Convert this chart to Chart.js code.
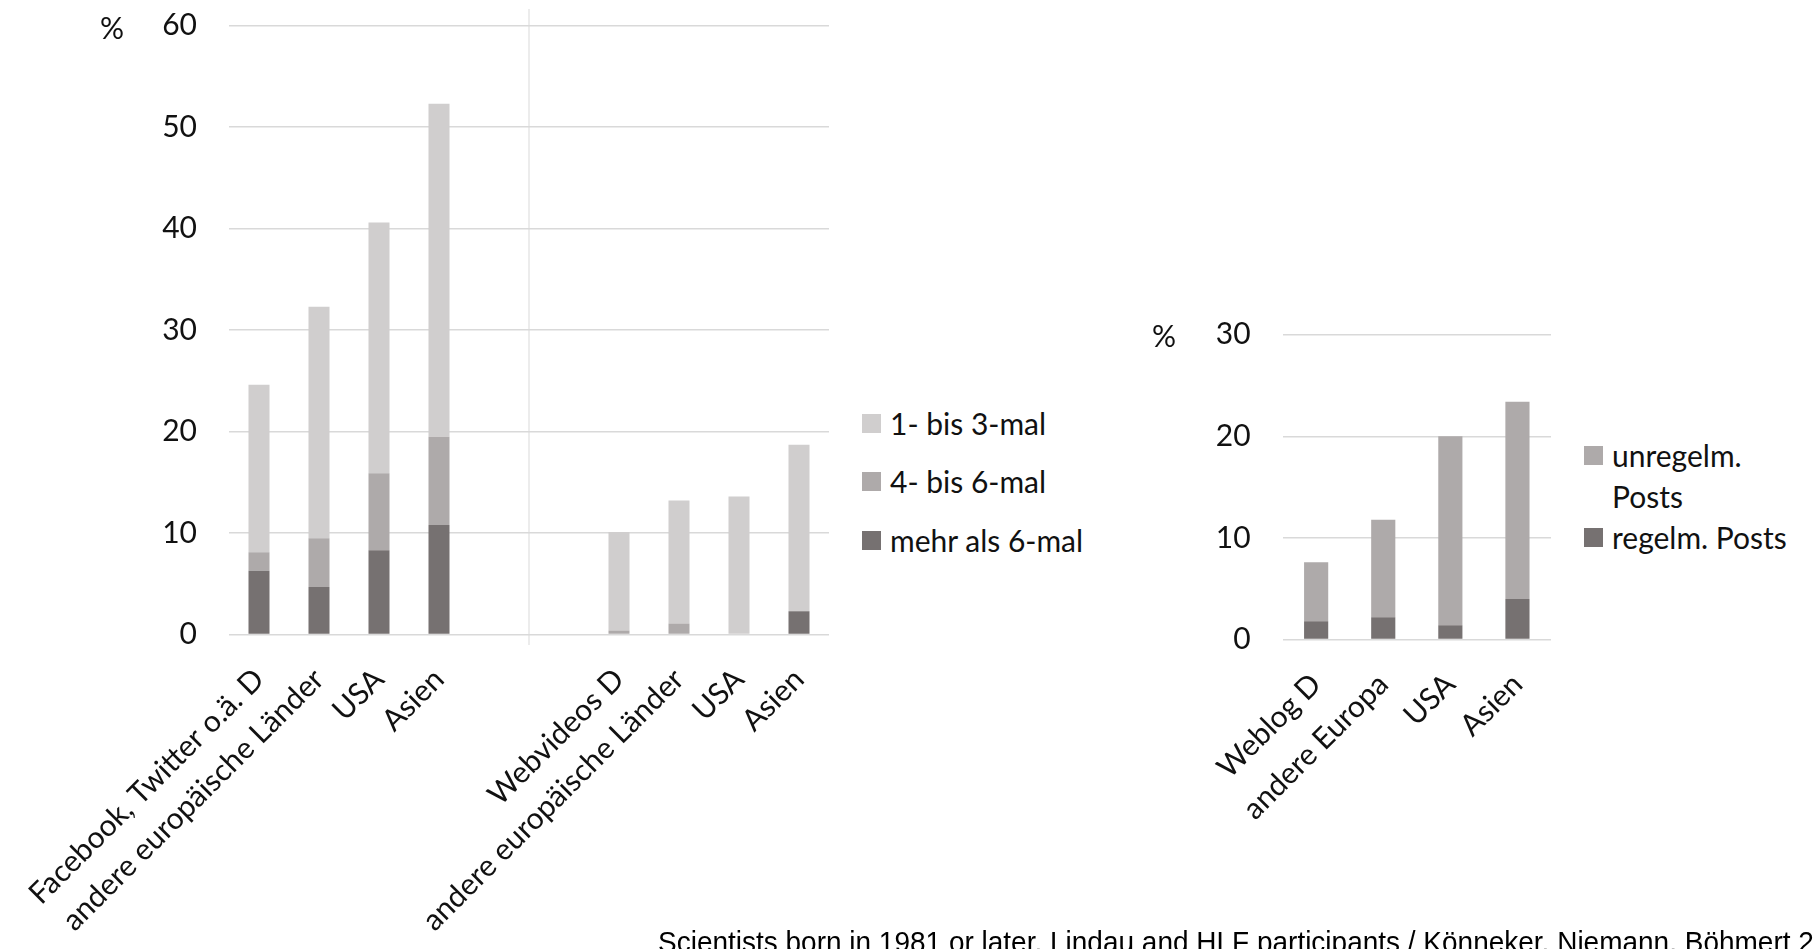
<!DOCTYPE html>
<html>
<head>
<meta charset="utf-8">
<script src="https://cdn.jsdelivr.net/npm/chart.js@4.4.1/dist/chart.umd.min.js"></script>
<style>
    html, body { margin: 0; padding: 0; background: #fff; }
    body { width: 1816px; height: 949px; position: relative; overflow: hidden; font-family: Lato, "Open Sans", sans-serif; color: #111; }
    canvas { position: absolute; top: 0; }
    .unit { position: absolute; font-size: 30px; line-height: 30px; }
    .legend { position: absolute; font-size: 30px; }
    .legend .item { position: relative; padding-left: 28px; line-height: 41px; white-space: nowrap; }
    .legend .box { position: absolute; left: 0; top: 11px; width: 19px; height: 19px; }
    #leftLegend .item { margin-bottom: 17.5px; }
    .source { position: absolute; left: 658px; top: 928px; font-family: "Liberation Sans", Arial, sans-serif; font-size: 29px; line-height: 29px;
              white-space: nowrap; color: #000; transform: scaleX(0.965); transform-origin: 0 0; }
</style>
</head>
<body>
<canvas id="leftChart" width="850" height="949" style="left:0"></canvas>
<canvas id="rightChart" width="410" height="949" style="left:1150px"></canvas>
<div class="unit" style="left:100px; top:12px">%</div>
<div class="unit" style="left:1152px; top:320px">%</div>
<div class="legend" id="leftLegend" style="left:862px; top:402.5px"></div>
<div class="legend" id="rightLegend" style="left:1584px; top:434.5px"></div>
<div class="source">Scientists born in 1981 or later, Lindau and HLF participants / Könneker, Niemann, Böhmert 2</div>

<script>
// --- Data: linkes Diagramm (Social Media / Webvideos) ---
const leftCategories = ['Facebook, Twitter o.ä. D', 'andere europäische Länder', 'USA', 'Asien', '', '',
    'Webvideos D', 'andere europäische Länder', 'USA', 'Asien'];
const mehrAls6 = [6.3, 4.7, 8.3, 10.8, null, null, 0, 0, 0, 2.3];
const vierBis6 = [1.8, 4.8, 7.6, 8.7, null, null, 0.4, 1.1, 0, 0];
const einsBis3 = [16.5, 22.8, 24.7, 32.8, null, null, 9.7, 12.1, 13.6, 16.4];
const leftTicks = [0, 10, 20, 30, 40, 50, 60];

// --- Data: rechtes Diagramm (Weblogs) ---
const rightCategories = ['Weblog D', 'andere Europa', 'USA', 'Asien'];
const regelmPosts = [1.8, 2.2, 1.4, 4.0];
const unregelmPosts = [5.8, 9.6, 18.6, 19.4];
const rightTicks = [0, 10, 20, 30];

const LIGHT = '#d0cece';
const MID = '#aeaaaa';
const DARK = '#767171';
const GRID = '#d9d9d9';
const NONE = 'rgba(0,0,0,0)';
const FONT = { family: 'Lato, "Open Sans", sans-serif', size: 30 };

// vertical separator between the two groups of the left chart
const separatorPlugin = {
    id: 'separator',
    afterDatasetsDraw(chart) {
        const x = chart.scales.x;
        const px = (x.getPixelForValue(4) + x.getPixelForValue(5)) / 2;
        const ctx = chart.ctx;
        ctx.save();
        ctx.strokeStyle = GRID;
        ctx.lineWidth = 1;
        ctx.beginPath();
        ctx.moveTo(px, 9);
        ctx.lineTo(px, 645);
        ctx.stroke();
        ctx.restore();
    }
};

function buildOptions(ticks, yWidth, xHeight, padding, barPct) {
    return {
        responsive: false,
        animation: false,
        devicePixelRatio: 1,
        layout: { padding: padding, autoPadding: false },
        plugins: { legend: { display: false }, tooltip: { enabled: false } },
        datasets: { bar: { barPercentage: barPct, categoryPercentage: 1 } },
        scales: {
            x: {
                stacked: true,
                // invisible grid, only used for the gap between axis and labels
                grid: { color: NONE, tickColor: NONE, drawTicks: true, tickLength: 21 },
                border: { display: false },
                ticks: { font: FONT, color: '#111', minRotation: 45, maxRotation: 45, autoSkip: false, padding: 6 },
                afterFit(scale) { scale.height = xHeight; }
            },
            y: {
                stacked: true,
                min: ticks[0],
                max: ticks[ticks.length - 1],
                afterBuildTicks(scale) { scale.ticks = ticks.map(v => ({ value: v })); },
                grid: { color: GRID, lineWidth: 1.5, drawTicks: true, tickLength: 32, tickColor: NONE },
                border: { display: false },
                ticks: { font: FONT, color: '#111', padding: 0 },
                afterFit(scale) { scale.width = yWidth; }
            }
        }
    };
}

new Chart(document.getElementById('leftChart'), {
    type: 'bar',
    data: {
        labels: leftCategories,
        datasets: [
            { label: 'mehr als 6-mal', data: mehrAls6, backgroundColor: DARK },
            { label: '4- bis 6-mal', data: vierBis6, backgroundColor: MID },
            { label: '1- bis 3-mal', data: einsBis3, backgroundColor: LIGHT }
        ]
    },
    options: buildOptions(leftTicks, 229, 314.4, { top: 25.5, right: 21, left: 0, bottom: 0 }, 0.35),
    plugins: [separatorPlugin]
});

new Chart(document.getElementById('rightChart'), {
    type: 'bar',
    data: {
        labels: rightCategories,
        datasets: [
            { label: 'regelm. Posts', data: regelmPosts, backgroundColor: DARK },
            { label: 'unregelm. Posts', data: unregelmPosts, backgroundColor: MID }
        ]
    },
    options: buildOptions(rightTicks, 132.6, 309.4, { top: 334.6, right: 9, left: 0, bottom: 0 }, 0.36)
});

// --- Legends (top series first, like the original) ---
function renderLegend(id, items) {
    const el = document.getElementById(id);
    el.innerHTML = items.map(it => `
        <div class="item"><span class="box" style="background:${it.color}"></span>${it.label}</div>
    `).join('');
}

renderLegend('leftLegend', [
    { label: '1- bis 3-mal', color: LIGHT },
    { label: '4- bis 6-mal', color: MID },
    { label: 'mehr als 6-mal', color: DARK }
]);
renderLegend('rightLegend', [
    { label: 'unregelm.<br>Posts', color: MID },
    { label: 'regelm. Posts', color: DARK }
]);
</script>
</body>
</html>
